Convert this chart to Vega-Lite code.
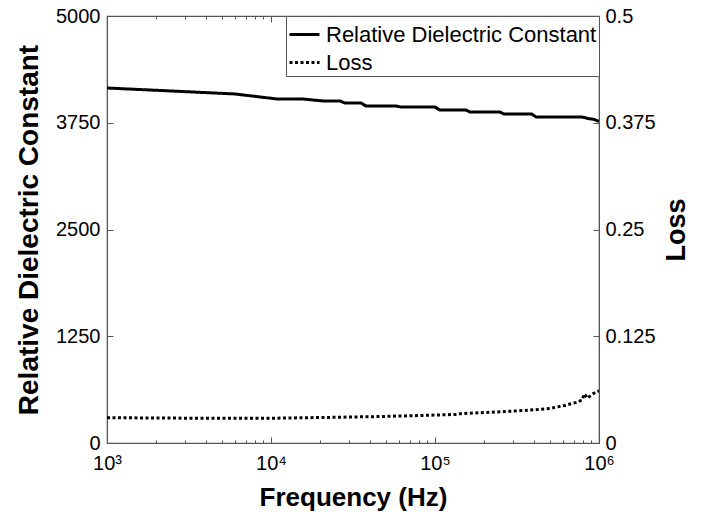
{
  "$schema": "https://vega.github.io/schema/vega-lite/v6.json",
  "autosize": "none",
  "width": 492,
  "height": 427,
  "padding": {"left": 107, "top": 16, "right": 102, "bottom": 73},
  "background": "white",
  "config": {
    "font": "Liberation Sans",
    "view": {"stroke": "#555555", "strokeWidth": 1.2},
    "axis": {
      "grid": false,
      "domainColor": "#555555",
      "tickColor": "#555555",
      "labelColor": "black",
      "titleColor": "black",
      "labelFont": "Liberation Sans",
      "titleFont": "Liberation Sans",
      "labelFontSize": 20,
      "titleFontSize": 27,
      "titleFontWeight": "bold"
    }
  },
  "datasets": {
    "dielectric": [
      {"freq": 1000, "value": 4157, "series": "Relative Dielectric Constant"},
      {"freq": 6030, "value": 4087, "series": "Relative Dielectric Constant"},
      {"freq": 10900, "value": 4028, "series": "Relative Dielectric Constant"},
      {"freq": 15700, "value": 4028, "series": "Relative Dielectric Constant"},
      {"freq": 20700, "value": 4005, "series": "Relative Dielectric Constant"},
      {"freq": 26300, "value": 4005, "series": "Relative Dielectric Constant"},
      {"freq": 28200, "value": 3981, "series": "Relative Dielectric Constant"},
      {"freq": 35400, "value": 3981, "series": "Relative Dielectric Constant"},
      {"freq": 37900, "value": 3946, "series": "Relative Dielectric Constant"},
      {"freq": 58000, "value": 3946, "series": "Relative Dielectric Constant"},
      {"freq": 62000, "value": 3934, "series": "Relative Dielectric Constant"},
      {"freq": 100000, "value": 3934, "series": "Relative Dielectric Constant"},
      {"freq": 107000, "value": 3899, "series": "Relative Dielectric Constant"},
      {"freq": 154700, "value": 3899, "series": "Relative Dielectric Constant"},
      {"freq": 163000, "value": 3876, "series": "Relative Dielectric Constant"},
      {"freq": 249000, "value": 3876, "series": "Relative Dielectric Constant"},
      {"freq": 263000, "value": 3852, "series": "Relative Dielectric Constant"},
      {"freq": 389000, "value": 3852, "series": "Relative Dielectric Constant"},
      {"freq": 413000, "value": 3817, "series": "Relative Dielectric Constant"},
      {"freq": 788000, "value": 3817, "series": "Relative Dielectric Constant"},
      {"freq": 857000, "value": 3800, "series": "Relative Dielectric Constant"},
      {"freq": 930000, "value": 3790, "series": "Relative Dielectric Constant"},
      {"freq": 1000000, "value": 3765, "series": "Relative Dielectric Constant"}
    ],
    "loss": [
      {"freq": 1000, "value": 0.0296, "series": "Loss"},
      {"freq": 3690, "value": 0.0290, "series": "Loss"},
      {"freq": 9860, "value": 0.0290, "series": "Loss"},
      {"freq": 22900, "value": 0.0300, "series": "Loss"},
      {"freq": 46200, "value": 0.0310, "series": "Loss"},
      {"freq": 93300, "value": 0.0325, "series": "Loss"},
      {"freq": 138000, "value": 0.0335, "series": "Loss"},
      {"freq": 145000, "value": 0.0345, "series": "Loss"},
      {"freq": 249000, "value": 0.0365, "series": "Loss"},
      {"freq": 380000, "value": 0.0385, "series": "Loss"},
      {"freq": 502000, "value": 0.0405, "series": "Loss"},
      {"freq": 620000, "value": 0.0440, "series": "Loss"},
      {"freq": 742000, "value": 0.0480, "series": "Loss"},
      {"freq": 790000, "value": 0.0505, "series": "Loss"},
      {"freq": 813000, "value": 0.0575, "series": "Loss"},
      {"freq": 850000, "value": 0.0525, "series": "Loss"},
      {"freq": 910000, "value": 0.0570, "series": "Loss"},
      {"freq": 960000, "value": 0.0600, "series": "Loss"},
      {"freq": 1000000, "value": 0.0610, "series": "Loss"}
    ]
  },
  "layer": [
    {
      "data": {"name": "dielectric"},
      "mark": {"type": "line", "color": "black", "strokeWidth": 3, "clip": true},
      "encoding": {
        "x": {
          "field": "freq", "type": "quantitative",
          "scale": {"type": "log", "domain": [1000, 1000000], "nice": false},
          "axis": {
            "orient": "bottom",
            "title": "Frequency (Hz)",
            "titleFontSize": 26,
            "values": [1000, 2000, 3000, 4000, 5000, 6000, 7000, 8000, 9000, 10000, 20000, 30000, 40000, 50000, 60000, 70000, 80000, 90000, 100000, 200000, 300000, 400000, 500000, 600000, 700000, 800000, 900000, 1000000],
            "labelExpr": "datum.value == 1000 ? '10³' : datum.value == 10000 ? '10⁴' : datum.value == 100000 ? '10⁵' : datum.value == 1000000 ? '10⁶' : ''",
            "tickSize": {"condition": {"test": "datum.value == 1000 || datum.value == 10000 || datum.value == 100000 || datum.value == 1000000", "value": -6}, "value": -3},
            "labelPadding": 16,
            "labelFlush": false,
            "labelOverlap": false,
            "titlePadding": 8
          }
        },
        "y": {
          "field": "value", "type": "quantitative",
          "scale": {"domain": [0, 5000], "nice": false},
          "axis": {
            "orient": "left",
            "title": "Relative Dielectric Constant",
            "titleFontSize": 28,
            "values": [0, 1250, 2500, 3750, 5000],
            "format": "d",
            "tickSize": -6,
            "labelPadding": 13,
            "titlePadding": 12
          }
        },
        "strokeDash": {
          "field": "series", "type": "nominal",
          "scale": {"domain": ["Relative Dielectric Constant", "Loss"], "range": [[1, 0], [3, 2.5]]},
          "legend": {
            "title": null,
            "orient": "top-right",
            "offset": 0,
            "symbolType": "stroke",
            "symbolSize": 900,
            "symbolStrokeWidth": 3,
            "symbolStrokeColor": "black",
            "labelFontSize": 22,
            "labelFont": "Liberation Sans",
            "labelColor": "black",
            "labelLimit": 0,
            "fillColor": "white",
            "strokeColor": "#555555",
            "padding": 2,
            "rowPadding": -2,
            "labelOffset": 5
          }
        }
      }
    },
    {
      "data": {"name": "loss"},
      "mark": {"type": "line", "color": "black", "strokeWidth": 3, "clip": true},
      "encoding": {
        "x": {
          "field": "freq", "type": "quantitative",
          "scale": {"type": "log", "domain": [1000, 1000000], "nice": false},
          "axis": {
            "orient": "top",
            "title": null,
            "labels": false,
            "values": [1000, 2000, 3000, 4000, 5000, 6000, 7000, 8000, 9000, 10000, 20000, 30000, 40000, 50000, 60000, 70000, 80000, 90000, 100000, 200000, 300000, 400000, 500000, 600000, 700000, 800000, 900000, 1000000],
            "tickSize": {"condition": {"test": "datum.value == 1000 || datum.value == 10000 || datum.value == 100000 || datum.value == 1000000", "value": -6}, "value": -3}
          }
        },
        "y": {
          "field": "value", "type": "quantitative",
          "scale": {"domain": [0, 0.5], "nice": false},
          "axis": {
            "orient": "right",
            "title": "Loss",
            "titleAngle": -90,
            "titleBaseline": "top",
            "values": [0, 0.125, 0.25, 0.375, 0.5],
            "format": ".3~f",
            "tickSize": -6,
            "labelPadding": 12,
            "titlePadding": 8
          }
        },
        "strokeDash": {"field": "series", "type": "nominal"}
      }
    }
  ],
  "resolve": {"scale": {"y": "independent"}}
}
